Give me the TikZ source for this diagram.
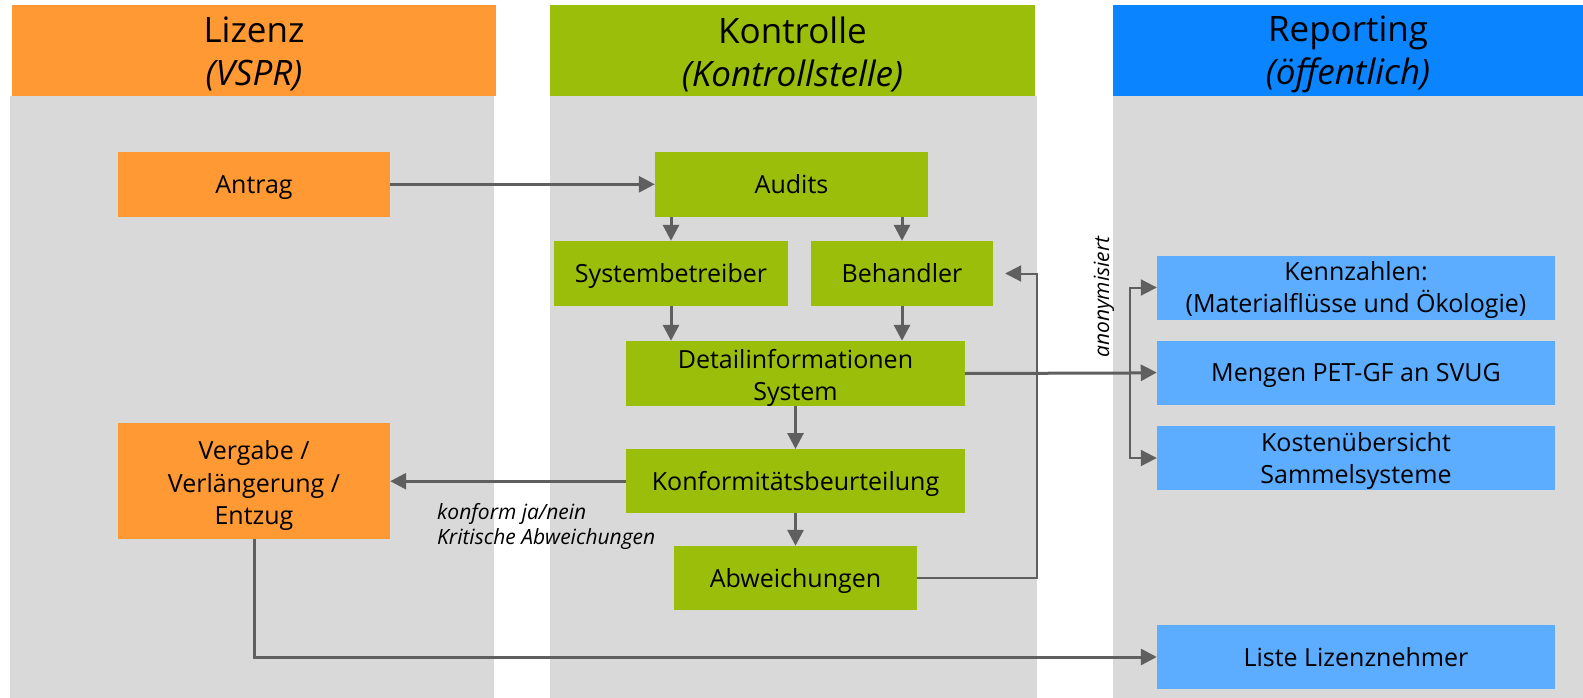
\documentclass[tikz,border=0pt]{standalone}
\usepackage{fontspec}
\setmainfont{Open Sans}
\usetikzlibrary{arrows.meta}

\definecolor{lizorange}{HTML}{FF9933}
\definecolor{kongreen}{HTML}{9BBE0B}
\definecolor{repblue}{HTML}{0A84FF}
\definecolor{boxblue}{HTML}{5CACFF}
\definecolor{lanegray}{HTML}{D9D9D9}
\definecolor{linegray}{HTML}{5F5F5F}

\begin{document}
\begin{tikzpicture}[x=1pt, y=-1pt, >={Triangle[length=16pt,width=16pt]},
  head/.style={rectangle, inner sep=0pt, align=center, font=\fontsize{35}{43}\selectfont},
  box/.style={rectangle, inner sep=0pt, align=center, font=\fontsize{25}{32.5}\selectfont},
  oneline/.style={text height=28pt, text depth=10pt},
  lizbox/.style={box, fill=lizorange},
  konbox/.style={box, fill=kongreen},
  repbox/.style={box, fill=boxblue, minimum width=398pt, minimum height=64pt},
  note/.style={inner sep=0pt, align=left, font=\fontsize{21}{25}\selectfont\itshape},
  flow/.style={->, draw=linegray, line width=3pt},
  thin/.style={->, draw=linegray, line width=2pt}]
\useasboundingbox (0,0) rectangle (1583,698);

% lanes
\fill[lanegray] (10,96) rectangle (494,698);
\fill[lanegray] (550,96) rectangle (1037,698);
\fill[lanegray] (1113,96) rectangle (1583,698);

% headers
\fill[lizorange] (12,5) rectangle (496,96);
\fill[kongreen] (550,5) rectangle (1035,96);
\fill[repblue] (1113,5) rectangle (1583,96);
\node (hlizenz) [head] at (254,54) {Lizenz\\\textit{(VSPR)}};
\node (hkontrolle) [head] at (792.5,54) {Kontrolle\\\textit{(Kontrollstelle)}};
\node (hreporting) [head] at (1348,54) {Reporting\\\textit{(öffentlich)}};

% Lizenz
\node (antrag) [lizbox, oneline, minimum width=272pt, minimum height=65pt] at (254,184.3) {Antrag};
\node (vergabe) [lizbox, text height=87pt, text depth=0pt, minimum width=272pt, minimum height=116pt] at (254,481) {Vergabe /\\Verlängerung /\\Entzug};

% Kontrolle
\node (audits) [konbox, oneline, minimum width=273pt, minimum height=65pt] at (791.5,184.5) {Audits};
\node (sysbetr) [konbox, oneline, minimum width=234pt, minimum height=65pt] at (671,273.5) {Systembetreiber};
\node (behandler) [konbox, oneline, minimum width=182pt, minimum height=65pt] at (902,273.5) {Behandler};
\node (detail) [konbox, text height=54pt, text depth=0pt, minimum width=339pt, minimum height=65pt] at (795.5,373.5) {Detailinformationen\\System};
\node (konform) [konbox, oneline, minimum width=339pt, minimum height=64pt] at (795.5,481.2) {Konformitätsbeurteilung};
\node (abweich) [konbox, oneline, minimum width=243pt, minimum height=64pt] at (795.5,578) {Abweichungen};

% Reporting
\node (kennzahlen) [repbox, text height=50.5pt, text depth=0pt] at (1356,287.5) {Kennzahlen:\\(Materialflüsse und Ökologie)};
\node (mengen) [repbox, oneline] at (1356,372.5) {Mengen PET-GF an SVUG};
\node (kosten) [repbox, text height=51pt, text depth=0pt] at (1356,458) {Kostenübersicht\\Sammelsysteme};
\node (liste) [repbox, oneline] at (1356,657) {Liste Lizenznehmer};

% labels
\node (konflabel) [note, anchor=north west] at (437,503) {konform ja/nein\\Kritische Abweichungen};
\node (anon) [note, rotate=90] at (1104,297) {anonymisiert};

\coordinate (ret) at (1037,578);
\coordinate (fork) at (1130,373);

\draw[flow] (antrag.east) -- (audits.west |- antrag.east);
\draw[flow] (sysbetr.north |- audits.south) -- (sysbetr.north);
\draw[flow] (behandler.north |- audits.south) -- (behandler.north);
\draw[flow] (sysbetr.south) -- (sysbetr.south |- detail.north);
\draw[flow] (behandler.south) -- (behandler.south |- detail.north);
\draw[flow] (detail) -- (konform);
\draw[flow] (konform) -- (abweich);
\draw[flow] (konform.west) -- (konform.west -| vergabe.east);
\draw[thin, shorten >=12pt] (abweich.east) -- (ret) |- (behandler.east);
\draw[flow, -] (detail.east) -- (fork);
\draw[thin] (fork) |- (kennzahlen.west);
\draw[thin] (fork) |- (kosten.west);
\draw[flow] (fork) -- (mengen.west);
\draw[flow] (vergabe.south) |- (liste.west);
\end{tikzpicture}
\end{document}
